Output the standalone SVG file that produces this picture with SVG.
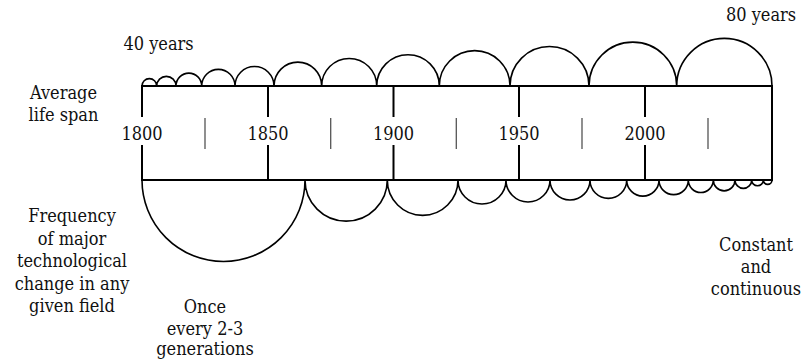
<svg xmlns="http://www.w3.org/2000/svg" width="804" height="359" viewBox="0 0 804 359">
  <style>
    text { font-family: 'DejaVu Serif Condensed', 'DejaVu Serif', serif; font-stretch: condensed; font-size: 18px; fill: #111; text-anchor: middle; }
    .bar { stroke: #000; stroke-width: 2; fill: none; }
    .arc { stroke: #000; stroke-width: 1.6; fill: none; }
    .tick { stroke: #555; stroke-width: 1.3; fill: none; }
  </style>
  <rect width="804" height="359" fill="#fff"/>

  <!-- timeline bar -->
  <g id="timeline">
    <line class="bar" x1="141" y1="86" x2="773" y2="86"/>
    <line class="bar" x1="141" y1="180" x2="773" y2="180"/>
    <line class="bar" x1="772" y1="86" x2="772" y2="181"/>
    <!-- year dividers, broken around the labels -->
    <path class="bar" d="M142 86V117M142 145V181M268 86V117M268 145V180M393.5 86V117M393.5 145V180M519 86V117M519 145V180M645 86V117M645 145V180"/>
    <!-- half-way ticks -->
    <path class="tick" d="M205 118V149M330.7 118V149M456.3 118V149M582 118V149M708 118V149"/>
    <text x="142" y="140">1800</text>
    <text x="268" y="140">1850</text>
    <text x="393.5" y="140">1900</text>
    <text x="519" y="140">1950</text>
    <text x="645" y="140">2000</text>
  </g>

  <!-- life span arcs, growing from 40 to 80 years -->
  <g id="lifespan-arcs">
    <path class="arc" d="M142 86A7.35 7.35 0 0 1 156.7 86A9.65 9.65 0 0 1 176 86A12.85 12.85 0 0 1 201.7 86A16.65 16.65 0 0 1 235 86A19.5 19.5 0 0 1 274 86A23.85 23.85 0 0 1 321.7 86A27.5 27.5 0 0 1 376.7 86A31.3 31.3 0 0 1 439.3 86A35.35 35.35 0 0 1 510 86A39.5 39.5 0 0 1 589 86A43.85 43.85 0 0 1 676.7 86A47.65 47.65 0 0 1 772 86"/>
  </g>

  <!-- frequency of change arcs, shrinking towards the present -->
  <g id="change-arcs">
    <path class="arc" d="M142 180A81.5 81.5 0 0 0 305 180A41.15 41.15 0 0 0 387.3 180A35.35 35.35 0 0 0 458 180A24 24 0 0 0 506 180A22 22 0 0 0 550 180A20 20 0 0 0 590 180A18.35 18.35 0 0 0 626.7 180A16.15 16.15 0 0 0 659 180A14.65 14.65 0 0 0 688.3 180A12.5 12.5 0 0 0 713.3 180A10.85 10.85 0 0 0 735 180A8.35 8.35 0 0 0 751.7 180A5.8 5.8 0 0 0 763.3 180A4.35 4.35 0 0 0 772 180"/>
  </g>

  <g id="label-40">
    <text x="158.5" y="49.5">40 years</text>
  </g>
  <g id="label-80">
    <text x="761" y="21">80 years</text>
  </g>
  <g id="label-lifespan">
    <text x="63.5" y="98.5">Average</text>
    <text x="63.5" y="120.5">life span</text>
  </g>
  <g id="label-frequency">
    <text x="72" y="222">Frequency</text>
    <text x="72" y="244.5">of major</text>
    <text x="72" y="267">technological</text>
    <text x="72" y="289.5">change in any</text>
    <text x="72" y="312">given field</text>
  </g>
  <g id="label-once">
    <text x="205" y="313">Once</text>
    <text x="205" y="334.5">every 2-3</text>
    <text x="205" y="355">generations</text>
  </g>
  <g id="label-constant">
    <text x="756" y="251">Constant</text>
    <text x="756" y="273">and</text>
    <text x="756" y="295">continuous</text>
  </g>
</svg>
